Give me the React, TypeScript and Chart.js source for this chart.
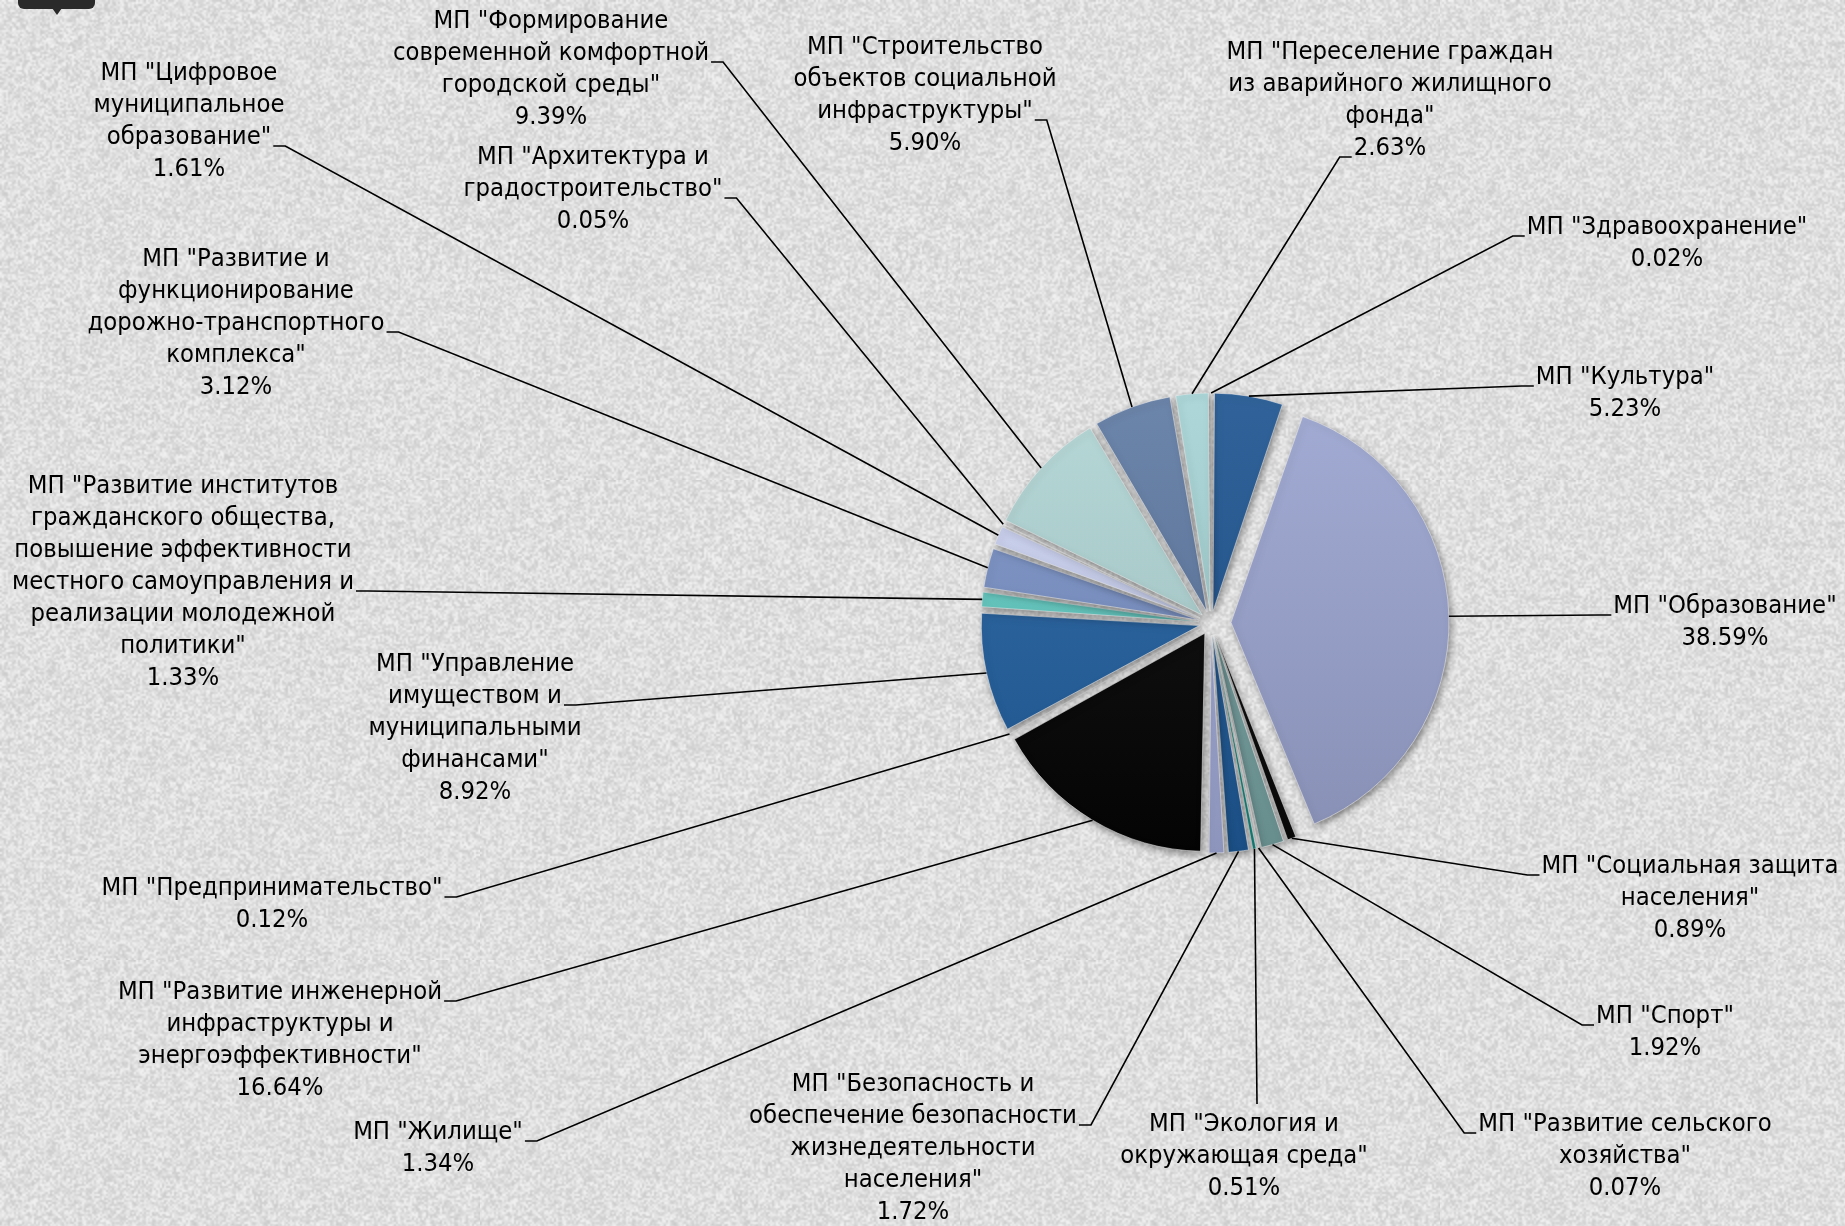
import React, { useEffect, useRef } from 'react';
import { Chart, registerables } from 'chart.js';

Chart.register(...registerables);

const W = 1845;
const H = 1226;

// ---- data ----
const programLines: string[][] = [
  ['МП "Здравоохранение"'],
  ['МП "Культура"'],
  ['МП "Образование"'],
  ['МП "Социальная защита', 'населения"'],
  ['МП "Спорт"'],
  ['МП "Развитие сельского', 'хозяйства"'],
  ['МП "Экология и', 'окружающая среда"'],
  ['МП "Безопасность и', 'обеспечение безопасности', 'жизнедеятельности', 'населения"'],
  ['МП "Жилище"'],
  ['МП "Развитие инженерной', 'инфраструктуры и', 'энергоэффективности"'],
  ['МП "Предпринимательство"'],
  ['МП "Управление', 'имуществом и', 'муниципальными', 'финансами"'],
  ['МП "Развитие институтов', 'гражданского общества,', 'повышение эффективности', 'местного самоуправления и', 'реализации молодежной', 'политики"'],
  ['МП "Развитие и', 'функционирование', 'дорожно-транспортного', 'комплекса"'],
  ['МП "Цифровое', 'муниципальное', 'образование"'],
  ['МП "Архитектура и', 'градостроительство"'],
  ['МП "Формирование', 'современной комфортной', 'городской среды"'],
  ['МП "Строительство', 'объектов социальной', 'инфраструктуры"'],
  ['МП "Переселение граждан', 'из аварийного жилищного', 'фонда"'],
];
const categories = programLines.map((l) => l.join(' '));
const shares = [0.02, 5.23, 38.59, 0.89, 1.92, 0.07, 0.51, 1.72, 1.34, 16.64, 0.12, 8.92, 1.33, 3.12, 1.61, 0.05, 9.39, 5.9, 2.63];

// ---- styles ----
const sliceColors = [
  '#8fb0d0', '#1f5591', '#9aa4cf', '#0a0a0a', '#76a0a0', '#2a8c8c', '#18948a',
  '#1f5a97', '#a3acd9', '#050505', '#c0c8e8', '#22609f', '#62cdc4', '#7a92c6',
  '#ccd3f2', '#7fa0a0', '#b0d5d4', '#5f7aa3', '#a6d4d6',
];
const sliceOffsets = [48, 48, 80, 48, 48, 48, 48, 48, 48, 48, 48, 48, 48, 48, 48, 48, 48, 48, 48];
const PIE_R = 218;
const FONT_PX = 25;
const LINE_H = 32;
const FONT = `${FONT_PX}px "DejaVu Sans", "Liberation Sans", sans-serif`;
const CALIB_TEXT = 'местного самоуправления и';
const CALIB_W = 342;

type LabelPos = { cx: number; y0: number; line: number; side: 'L' | 'R' | 'T'; dx?: number };
const labelLayout: LabelPos[] = [
  { cx: 1667, y0: 227, line: 0, side: 'L' },
  { cx: 1625, y0: 377, line: 0, side: 'L' },
  { cx: 1725, y0: 606, line: 0, side: 'L' },
  { cx: 1690, y0: 866, line: 0, side: 'L' },
  { cx: 1665, y0: 1016, line: 0, side: 'L' },
  { cx: 1625, y0: 1124, line: 0, side: 'L' },
  { cx: 1244, y0: 1124, line: 0, side: 'T', dx: 13 },
  { cx: 913, y0: 1084, line: 1, side: 'R' },
  { cx: 438, y0: 1132, line: 0, side: 'R' },
  { cx: 280, y0: 992, line: 0, side: 'R' },
  { cx: 272, y0: 888, line: 0, side: 'R' },
  { cx: 475, y0: 664, line: 1, side: 'R' },
  { cx: 183, y0: 486, line: 3, side: 'R' },
  { cx: 236, y0: 259, line: 2, side: 'R' },
  { cx: 189, y0: 73, line: 2, side: 'R' },
  { cx: 593, y0: 157, line: 1, side: 'R' },
  { cx: 551, y0: 21, line: 1, side: 'R' },
  { cx: 925, y0: 47, line: 2, side: 'R' },
  { cx: 1390, y0: 52, line: 3, side: 'L' },
];

function shade(hex: string, amt: number): string {
  const n = parseInt(hex.slice(1), 16);
  let r = (n >> 16) & 255, g = (n >> 8) & 255, b = n & 255;
  if (amt >= 0) {
    r = r + (255 - r) * amt; g = g + (255 - g) * amt; b = b + (255 - b) * amt;
  } else {
    r = r * (1 + amt); g = g * (1 + amt); b = b * (1 + amt);
  }
  return `rgb(${Math.round(r)},${Math.round(g)},${Math.round(b)})`;
}

let bgPattern: CanvasPattern | null = null;
function getBackground(ctx: CanvasRenderingContext2D): CanvasPattern | string {
  if (bgPattern) return bgPattern;
  const n = 240;
  const t = document.createElement('canvas');
  t.width = n; t.height = n;
  const tc = t.getContext('2d');
  if (!tc) return '#dadada';
  const img = tc.createImageData(n, n);
  let s = 20240601;
  const rnd = () => ((s = (Math.imul(s, 1664525) + 1013904223) >>> 0) / 4294967296);
  for (let i = 0; i < n * n; i++) {
    const v = 221 + (rnd() - 0.45) * 40;
    img.data[i * 4] = v; img.data[i * 4 + 1] = v; img.data[i * 4 + 2] = v; img.data[i * 4 + 3] = 255;
  }
  tc.putImageData(img, 0, 0);
  const big = document.createElement('canvas');
  big.width = n * 2; big.height = n * 2;
  const bc = big.getContext('2d');
  if (!bc) return '#dadada';
  bc.imageSmoothingEnabled = true;
  bc.drawImage(t, 0, 0, n * 2, n * 2);
  bgPattern = ctx.createPattern(big, 'repeat');
  return bgPattern || '#dadada';
}

const backgroundPlugin = {
  id: 'texturedBg',
  beforeDraw(chart: any) {
    const ctx: CanvasRenderingContext2D = chart.ctx;
    ctx.save();
    ctx.fillStyle = getBackground(ctx);
    ctx.fillRect(0, 0, chart.width, chart.height);
    ctx.restore();
  },
  afterDraw(chart: any) {
    const ctx: CanvasRenderingContext2D = chart.ctx;
    ctx.save();
    ctx.fillStyle = '#2a2a2a';
    ctx.beginPath();
    (ctx as any).roundRect(18, -10, 77, 19, 6);
    ctx.fill();
    ctx.beginPath();
    ctx.moveTo(52, 8); ctx.lineTo(62, 8); ctx.lineTo(57, 15); ctx.closePath();
    ctx.fill();
    ctx.restore();
  },
};

// keep the exploded slices flush with the nominal radius
const radiusPlugin = {
  id: 'flushRadius',
  afterUpdate(chart: any) {
    const meta = chart.getDatasetMeta(0);
    meta.data.forEach((arc: any, i: number) => {
      const circ = arc.endAngle - arc.startAngle;
      const off = (sliceOffsets[i] || 0) / 4;
      const fix = 1 - Math.sin(Math.min(Math.PI, circ));
      arc.outerRadius = PIE_R - off * fix;
    });
  },
};

const labelsPlugin = {
  id: 'leaderLabels',
  beforeDatasetsDraw(chart: any) {
    const ctx: CanvasRenderingContext2D = chart.ctx;
    ctx.save();
    ctx.shadowColor = 'rgba(0,0,0,0.4)';
    ctx.shadowBlur = 7;
    ctx.shadowOffsetX = 2;
    ctx.shadowOffsetY = 3;
  },
  afterDatasetsDraw(chart: any) {
    const ctx: CanvasRenderingContext2D = chart.ctx;
    ctx.restore();
    const meta = chart.getDatasetMeta(0);
    ctx.save();
    ctx.font = FONT;
    const xs = CALIB_W / ctx.measureText(CALIB_TEXT).width;
    meta.data.forEach((arc: any, i: number) => {
      const mid = (arc.startAngle + arc.endAngle) / 2;
      const off = (sliceOffsets[i] || 0) / 4;
      const r = PIE_R + off;
      const sx = arc.x + Math.cos(mid) * r;
      const sy = arc.y + Math.sin(mid) * r;
      const L = labelLayout[i];
      const lines = [...programLines[i], shares[i].toFixed(2) + '%'];
      ctx.fillStyle = '#000';
      ctx.textAlign = 'center';
      ctx.textBaseline = 'middle';
      lines.forEach((t, k) => {
        ctx.save();
        ctx.translate(L.cx, L.y0 + k * LINE_H);
        ctx.scale(xs, 1);
        ctx.fillText(t, 0, 0);
        ctx.restore();
      });
      let ax: number, ay: number, tx: number;
      if (L.side === 'T') {
        ax = L.cx + (L.dx || 0);
        ay = L.y0 - LINE_H / 2 - 4;
        tx = ax;
      } else {
        const w = ctx.measureText(lines[L.line]).width * xs;
        ay = L.y0 + L.line * LINE_H + 9;
        if (L.side === 'R') { ax = L.cx + w / 2 + 2; tx = ax + 12; }
        else { ax = L.cx - w / 2 - 2; tx = ax - 12; }
      }
      ctx.beginPath();
      ctx.moveTo(sx, sy);
      ctx.lineTo(tx, ay);
      ctx.lineTo(ax, ay);
      ctx.strokeStyle = '#000';
      ctx.lineWidth = 1.6;
      ctx.stroke();
    });
    ctx.restore();
  },
};

export default function App() {
  const ref = useRef<HTMLCanvasElement>(null);
  useEffect(() => {
    if (!ref.current) return;
    const chart = new Chart(ref.current, {
      type: 'pie',
      data: {
        labels: categories,
        datasets: [
          {
            data: shares,
            radius: PIE_R,
            offset: sliceOffsets,
            hoverOffset: 0,
            borderWidth: 1,
            borderColor: 'rgba(235,235,235,0.55)',
            backgroundColor: (c: any) => {
              const base = sliceColors[c.dataIndex] || '#888888';
              const area = c.chart.chartArea;
              if (!area) return base;
              const cy = (area.top + area.bottom) / 2;
              const g = c.chart.ctx.createLinearGradient(0, cy - PIE_R, 0, cy + PIE_R);
              g.addColorStop(0, shade(base, 0.08));
              g.addColorStop(1, shade(base, -0.12));
              return g;
            },
          } as any,
        ],
      },
      options: {
        responsive: false,
        animation: false,
        events: [],
        radius: PIE_R,
        layout: { padding: { left: 577, top: 20, right: 0, bottom: 0 } },
        plugins: { legend: { display: false }, tooltip: { enabled: false } },
      } as any,
      plugins: [backgroundPlugin, radiusPlugin, labelsPlugin],
    });
    return () => chart.destroy();
  }, []);
  return (
    <div style={{ position: 'fixed', left: 0, top: 0, width: W, height: H, overflow: 'hidden' }}>
      <canvas ref={ref} width={W} height={H} style={{ display: 'block', width: W, height: H }} />
    </div>
  );
}
